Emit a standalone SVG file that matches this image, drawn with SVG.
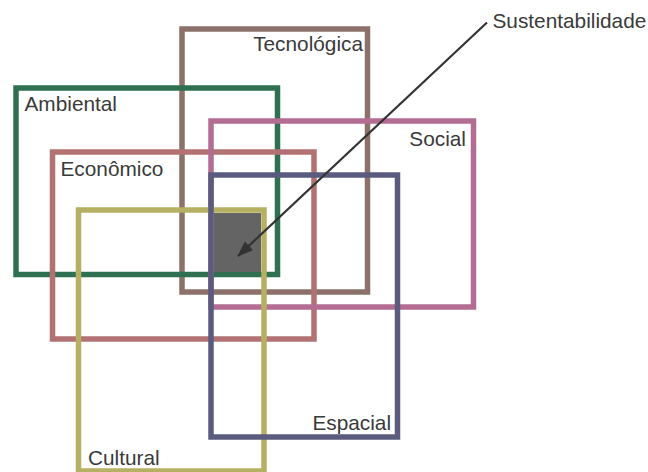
<svg xmlns="http://www.w3.org/2000/svg" width="648" height="472" viewBox="0 0 648 472">
<defs>
<style>
.box{fill:none;stroke-width:5.5}
.lbl{font-family:"Liberation Sans",Arial,sans-serif;font-size:20.8px;fill:#3a3a3a}
</style>
<marker id="ah" markerWidth="16" markerHeight="12" refX="15" refY="6" orient="auto" markerUnits="userSpaceOnUse" viewBox="0 0 16 12">
<path d="M0,0 L16,6 L0,12 Z" fill="#333"/>
</marker>
</defs>
<rect width="648" height="472" fill="#fff"/>
<g id="tecnologica">
<rect class="box" x="182" y="29" width="185.5" height="263" stroke="#8b7169"/>
<text class="lbl" x="363" y="51" text-anchor="end">Tecnológica</text>
</g>
<g id="ambiental">
<rect class="box" x="16" y="88" width="261.5" height="186.5" stroke="#2f7052"/>
<text class="lbl" x="24.5" y="111">Ambiental</text>
</g>
<g id="economico">
<rect class="box" x="52.5" y="152" width="261.5" height="187" stroke="#b27172"/>
<text class="lbl" x="60.5" y="176">Econômico</text>
</g>
<g id="social">
<rect class="box" x="211" y="121" width="262.5" height="186" stroke="#b36c92"/>
<text class="lbl" x="466" y="146" text-anchor="end">Social</text>
</g>
<g id="cultural">
<rect class="box" x="78.5" y="210" width="185.5" height="261" stroke="#b6b062"/>
<text class="lbl" x="88" y="464.5">Cultural</text>
</g>
<g id="espacial">
<rect class="box" x="211" y="175" width="186.5" height="262" stroke="#5b5b7f"/>
<text class="lbl" x="391" y="429.5" text-anchor="end">Espacial</text>
</g>
<g id="sustentabilidade">
<rect x="214" y="213" width="47" height="59" fill="#646464"/>
<text class="lbl" x="492.5" y="27.5">Sustentabilidade</text>
</g>
<g id="connectors">
<line x1="487" y1="22.5" x2="238" y2="256" stroke="#333" stroke-width="2.2" marker-end="url(#ah)"/>
</g>
</svg>
